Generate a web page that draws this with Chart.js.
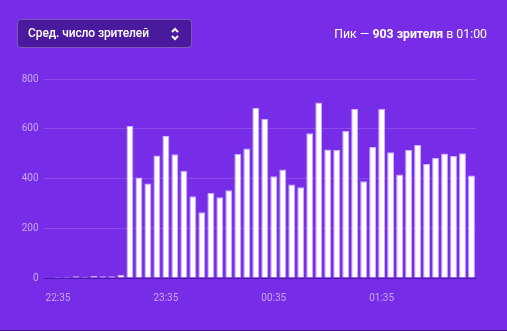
<!DOCTYPE html>
<html>
<head>
<meta charset="utf-8">
<script src="https://cdn.jsdelivr.net/npm/chart.js@4"></script>
<style>
  html, body { margin: 0; padding: 0; }
  body {
    width: 507px; height: 331px; background: #772ce8; position: relative; overflow: hidden;
    font-family: Roboto, "Noto Sans", sans-serif; color: #fff;
  }
  #wrap { position: absolute; left: 0; top: 0; width: 507px; height: 331px; }
  .select {
    position: absolute; left: 17px; top: 19px; width: 175px; height: 29px; box-sizing: border-box;
    background: #4a1a9e; border: 1px solid rgba(255,255,255,0.28); border-radius: 4px;
    font-size: 12px; font-weight: 500; line-height: 27px; padding-left: 10px; letter-spacing: -0.1px;
  }
  .select svg { position: absolute; left: 152px; top: 7px; }
  .peak {
    position: absolute; right: 20px; top: 25px; font-size: 12.3px; line-height: 18px; white-space: nowrap;
  }
  .peak b { font-weight: 700; }
  .bottom { position: absolute; left: 0; bottom: 0; width: 507px; height: 1px; background: #3d1688; }
</style>
</head>
<body>
<div id="wrap"><canvas id="viewersChart"></canvas></div>
<div class="select">Сред. число зрителей
  <svg width="10" height="14" viewBox="0 0 10 14"><path d="M2 5 L5 2 L8 5 M2 9 L5 12 L8 9" fill="none" stroke="#fff" stroke-width="2"/></svg>
</div>
<div class="peak">Пик — <b>903 зрителя</b> в 01:00</div>
<div class="bottom"></div>
<script>
// Временные метки (каждые 5 минут)
const labels = [
  "22:35", "22:40", "22:45", "22:50", "22:55", "23:00", "23:05", "23:10", "23:15", "23:20", "23:25", "23:30",
  "23:35", "23:40", "23:45", "23:50", "23:55", "00:00", "00:05", "00:10", "00:15", "00:20", "00:25", "00:30",
  "00:35", "00:40", "00:45", "00:50", "00:55", "01:00", "01:05", "01:10", "01:15", "01:20", "01:25", "01:30",
  "01:35", "01:40", "01:45", "01:50", "01:55", "02:00", "02:05", "02:10", "02:15", "02:20", "02:25"
];

// Среднее число зрителей
const viewers = [
  4, 4, 7, 5, 8, 7, 7, 13, 611, 404, 380, 492,
  571, 497, 431, 329, 264, 342, 325, 353, 498, 521, 683, 640,
  409, 436, 376, 365, 582, 706, 517, 515, 591, 679, 389, 527,
  680, 506, 416, 515, 535, 458, 482, 501, 490, 502, 412
];

const yTicks = [0, 200, 400, 600, 800];

const ctx = document.getElementById("viewersChart").getContext("2d");
const chart = new Chart(ctx, {
  type: 'bar',
  data: {
    labels: labels,
    datasets: [{
      data: viewers,
      backgroundColor: '#ffffff',
      borderColor: 'rgba(215,190,255,0.9)',
      borderWidth: 1,
      categoryPercentage: 1,
      barPercentage: 0.76
    }]
  },
  options: {
    responsive: true,
    maintainAspectRatio: false,
    animation: false,
    layout: { padding: { left: 22, right: 31, top: 79, bottom: 13 } },
    plugins: { legend: { display: false }, tooltip: { enabled: false } },
    scales: {
      x: {
        grid: { display: false, drawTicks: false },
        border: { display: false },
        ticks: {
          autoSkip: false,
          maxRotation: 0,
          padding: 14,
          color: '#c9a8f6',
          font: { family: 'Roboto', size: 10 },
          callback: function (value, index) {
            return index % 12 === 0 ? labels[index] : '';
          }
        }
      },
      y: {
        min: 0,
        max: 800,
        afterBuildTicks: function (axis) {
          axis.ticks = yTicks.map(v => ({ value: v }));
        },
        afterFit: function (axis) { axis.width = 31.5; },
        border: { display: false },
        grid: {
          tickLength: 10,
          lineWidth: 1,
          color: function (c) {
            return c.tick && c.tick.value === 0 ? '#4f17a8' : 'rgba(255,255,255,0.15)';
          }
        },
        ticks: {
          padding: 5,
          color: '#c9a8f6',
          font: { family: 'Roboto', size: 10 }
        }
      }
    }
  }
});
</script>
</body>
</html>
